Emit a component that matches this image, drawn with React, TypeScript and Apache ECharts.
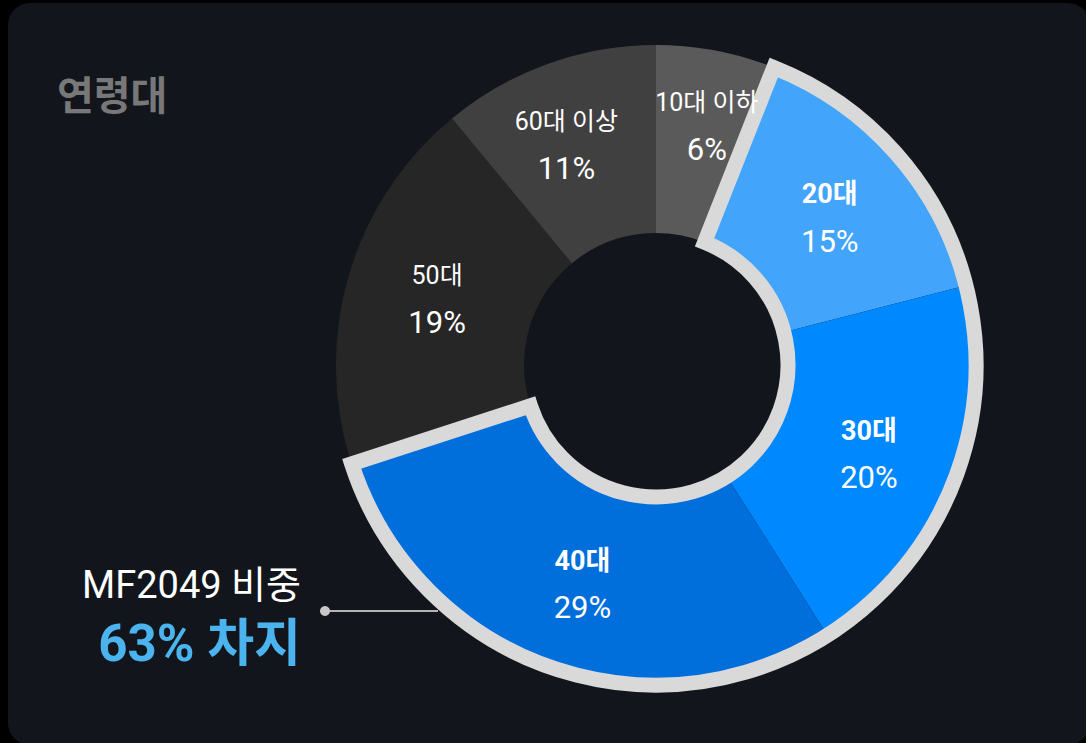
import { useEffect, useRef } from 'react';
import * as echarts from 'echarts';

const categories = ['10대 이하', '20대', '30대', '40대', '50대', '60대 이상'];
const shares = [6, 15, 20, 29, 19, 11];
const sliceColors = ['#5a5a5a', '#42a4fa', '#0088ff', '#006fdc', '#262626', '#404040'];
const highlighted = [false, true, true, true, false, false];
const titleText = '연령대';
const calloutTitle = 'MF2049 비중';
const calloutValue = '63% 차지';

const FONT = "Roboto, 'Noto Sans CJK KR', sans-serif";
const labelNudge: [number, number][] = [[8, -14], [2, 4], [0, 5], [4, 4], [1, -2], [-12, -5]];

export default function App() {
  const ref = useRef<HTMLDivElement>(null);

  useEffect(() => {
    if (!ref.current) return;
    const chart = echarts.init(ref.current, undefined, { renderer: 'svg' });

    const firstHi = highlighted.indexOf(true);
    const before = shares.slice(0, firstHi).reduce((a, b) => a + b, 0);
    const group = shares.filter((_, i) => highlighted[i]).reduce((a, b) => a + b, 0);
    const after = shares.reduce((a, b) => a + b, 0) - before - group;

    const sliceData = categories.map((name, i) => ({
      name,
      value: shares[i],
      itemStyle: { color: sliceColors[i], borderWidth: 0 },
    }));

    const labelData = categories.map((name, i) => ({
      name,
      value: shares[i],
      itemStyle: { color: 'rgba(0,0,0,0)', borderWidth: 0 },
      label: {
        offset: labelNudge[i],
        rich: {
          n: {
            color: '#ffffff',
            fontSize: highlighted[i] ? 27 : 25,
            fontFamily: FONT,
            fontWeight: highlighted[i] ? 'bold' : 'normal',
            lineHeight: 47,
          },
          p: {
            color: '#ffffff',
            fontSize: 31,
            fontFamily: FONT,
            fontWeight: 'normal',
            lineHeight: 47,
          },
        },
      },
    }));

    const transparentItem = (v: number) => ({
      value: v,
      itemStyle: { color: 'rgba(0,0,0,0)', borderWidth: 0 },
    });

    const common = {
      type: 'pie',
      center: [656, 365],
      radius: [132, 320],
      startAngle: 90,
      clockwise: true,
      avoidLabelOverlap: false,
      silent: true,
      emphasis: { disabled: true },
      labelLine: { show: false },
    };

    chart.setOption({
      animation: false,
      backgroundColor: '#000000',
      graphic: [
        {
          type: 'rect',
          z: -10,
          shape: { x: 8, y: 3, width: 1082, height: 742, r: 22 },
          style: { fill: '#12161c' },
          silent: true,
        },
        {
          type: 'text',
          x: 57,
          y: 96,
          style: {
            text: titleText,
            fill: '#787878',
            font: `bold 40px ${FONT}`,
            textAlign: 'left',
            textVerticalAlign: 'middle',
          },
        },
        {
          type: 'text',
          x: 301,
          y: 585,
          style: {
            text: calloutTitle,
            fill: '#ffffff',
            font: `normal 38px ${FONT}`,
            textAlign: 'right',
            textVerticalAlign: 'middle',
          },
        },
        {
          type: 'text',
          x: 301,
          y: 643,
          style: {
            text: calloutValue,
            fill: '#4bb4ee',
            font: `bold 51px ${FONT}`,
            textAlign: 'right',
            textVerticalAlign: 'middle',
          },
        },
        {
          type: 'line',
          z: 10,
          shape: { x1: 325, y1: 611, x2: 438, y2: 611 },
          style: { stroke: '#b4b4b4', lineWidth: 2 },
        },
        {
          type: 'circle',
          z: 10,
          shape: { cx: 325, cy: 611, r: 5 },
          style: { fill: '#c8c8c8' },
        },
      ],
      series: [
        {
          ...common,
          z: 2,
          label: { show: false },
          data: sliceData,
        },
        {
          ...common,
          z: 3,
          label: { show: false },
          data: [
            transparentItem(before),
            {
              value: group,
              itemStyle: {
                color: 'rgba(0,0,0,0)',
                borderColor: '#d9d9d9',
                borderWidth: 15,
                borderJoin: 'miter',
              },
            },
            transparentItem(after),
          ],
        },
        {
          ...common,
          z: 4,
          label: {
            show: true,
            position: 'inside',
            formatter: (p: any) => `{n|${p.name}}\n{p|${p.value}%}`,
          },
          data: labelData,
        },
      ],
    });

    return () => chart.dispose();
  }, []);

  return (
    <div style={{ position: 'fixed', left: 0, top: 0, width: 1086, height: 743, background: '#000' }}>
      <div ref={ref} style={{ width: 1086, height: 743 }} />
    </div>
  );
}
